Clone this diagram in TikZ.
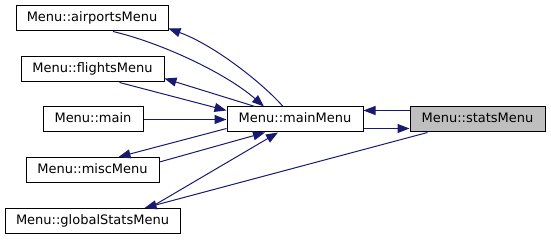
\documentclass[tikz,border=0pt]{standalone}
\usepackage{fontspec}
\setmainfont{DejaVu Sans}
\usetikzlibrary{arrows.meta}

\definecolor{edgeblue}{HTML}{191970}
\definecolor{hitgray}{HTML}{BFBFBF}

\begin{document}
\begin{tikzpicture}[x=1pt,y=-1pt,
  fn/.style={draw=black, line width=1pt, minimum height=25pt, inner sep=0pt,
    text height=9.5pt, text depth=3pt, font=\fontsize{13}{15}\selectfont},
  call/.style={draw=edgeblue, line width=1pt, -{Triangle[length=12pt,width=9pt]}}]

\useasboundingbox (0,0) rectangle (551,240);

\node[fn, minimum width=152pt] (airports) at (92,18.5) {Menu::airportsMenu};
\node[fn, minimum width=143pt] (flights) at (92.5,69.5) {Menu::flightsMenu};
\node[fn, minimum width=100pt] (main) at (93,119.5) {Menu::main};
\node[fn, minimum width=133pt] (misc) at (92.5,170) {Menu::miscMenu};
\node[fn, minimum width=175pt] (globalStats) at (92.5,221) {Menu::globalStatsMenu};
\node[fn, minimum width=136pt] (mainMenu) at (295,119.5) {Menu::mainMenu};
\node[fn, minimum width=135pt, fill=hitgray] (stats) at (477.5,119.5) {Menu::statsMenu};

\draw[call] ([xshift=21pt]airports.south) .. controls +(47,11) and +(-39,-34) .. ([xshift=-31pt]mainMenu.north);
\draw[call] ([xshift=-12pt]mainMenu.north) .. controls +(-18,-21) and +(47,17) .. ([yshift=3pt]airports.south east);

\draw[call] ([xshift=27pt]flights.south) -- ([yshift=9pt]mainMenu.west);
\draw[call] ([xshift=-40pt]mainMenu.north) -- ([yshift=4pt]flights.south east);

\draw[call] (main) -- (mainMenu);

\draw[call] ([yshift=-9pt]mainMenu.west) -- ([xshift=26pt]misc.north);
\draw[call] ([yshift=8pt]misc.east) -- ([xshift=-30pt]mainMenu.south);

\draw[call] ([xshift=57pt]globalStats.north) -- ([xshift=-17pt]mainMenu.south);
\draw[call] ([xshift=-50pt]stats.south) -- ([xshift=52pt]globalStats.north);

\draw[call] ([yshift=9pt]stats.west) -- ([yshift=9pt]mainMenu.east);
\draw[call] ([yshift=-9pt]mainMenu.east) -- ([yshift=-9pt]stats.west);

\end{tikzpicture}
\end{document}
